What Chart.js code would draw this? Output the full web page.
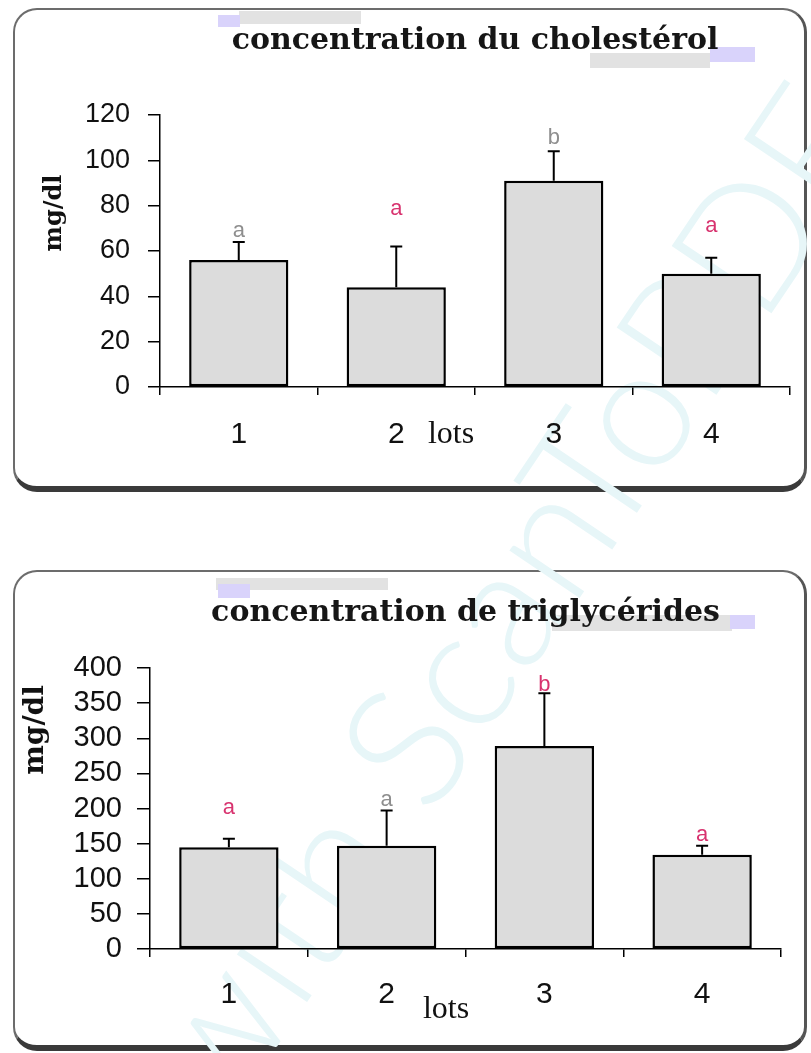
<!DOCTYPE html>
<html lang="fr">
<head>
<meta charset="utf-8">
<script src="https://cdn.jsdelivr.net/npm/chart.js@4.4.1/dist/chart.umd.min.js"></script>
<style>
  html, body { margin: 0; padding: 0; background: #fff; }
  body { width: 811px; height: 1053px; position: relative; overflow: hidden; }
  .panel { position: absolute; left: 13px; width: 794px; box-sizing: border-box; border: 2px solid #6c6c6c; border-right: 3px solid #555; border-bottom: 6px solid #3a3a3a; border-radius: 24px; }
  #p1 { top: 8px; height: 484px; }
  #p2 { top: 570px; height: 481px; }
  .tache { position: absolute; }
  .lav { background: #d9d3fb; }
  .gris { background: #e2e2e2; }
  svg.wm { position: absolute; left: 0; top: 0; }
  canvas { position: absolute; left: 0; }
  #c1 { top: 0; }
  #c2 { top: 560px; }
</style>
</head>
<body>
<div class="panel" id="p1"></div>
<div class="panel" id="p2"></div>

<!-- traces du scan autour des titres -->
<div class="tache gris" style="left:239px;top:11px;width:122px;height:13px"></div>
<div class="tache lav" style="left:218px;top:15px;width:22px;height:12px"></div>
<div class="tache gris" style="left:590px;top:53px;width:120px;height:15px"></div>
<div class="tache lav" style="left:710px;top:47px;width:45px;height:15px"></div>
<div class="tache gris" style="left:216px;top:578px;width:172px;height:12px"></div>
<div class="tache lav" style="left:218px;top:584px;width:32px;height:14px"></div>
<div class="tache gris" style="left:552px;top:615px;width:180px;height:16px"></div>
<div class="tache lav" style="left:730px;top:615px;width:25px;height:14px"></div>

<svg class="wm" width="811" height="1053">
  <text x="226" y="1122" transform="rotate(-56 226 1122)" font-family="Lato" font-weight="300" font-size="170" fill="#e7f6f8">with ScanToPDF</text>
</svg>

<canvas id="c1" width="811" height="500"></canvas>
<canvas id="c2" width="811" height="493"></canvas>

<script>
const lots = ['1', '2', '3', '4'];

// cholestérol (mg/dl)
const cholMoy = [56, 44, 91, 50];
const cholEt = [8, 18, 13, 7];
const cholLettres = ['a', 'a', 'b', 'a'];
const cholLettresY = [69, 78.5, 110, 71];
const cholTicks = [0, 20, 40, 60, 80, 100, 120];

// triglycérides (mg/dl)
const trigMoy = [145, 147, 289, 134];
const trigEt = [12, 50, 75, 13];
const trigLettres = ['a', 'a', 'b', 'a'];
const trigLettresY = [201, 212, 376, 162];
const trigTicks = [0, 50, 100, 150, 200, 250, 300, 350, 400];

const ROSE = '#d8336f', GRIS = '#8e8e8e';
const SANS = '"Liberation Sans", Arial, sans-serif';
const SERIF = '"DejaVu Serif", serif';
const TIMES = '"Liberation Serif", "Times New Roman", serif';

// barres d'erreur, lettres de significativité et titres d'axes
const annot = {
  id: 'annot',
  afterDatasetsDraw(chart, args, o) {
    const { ctx, scales: { y } } = chart;
    const moy = chart.data.datasets[0].data;
    const bars = chart.getDatasetMeta(0).data;
    ctx.save();
    ctx.strokeStyle = '#000'; ctx.lineWidth = 2;
    o.et.forEach((e, i) => {
      const bx = bars[i].x, y1 = y.getPixelForValue(moy[i] + e);
      ctx.beginPath();
      ctx.moveTo(bx, bars[i].y); ctx.lineTo(bx, y1);
      ctx.moveTo(bx - 6, y1); ctx.lineTo(bx + 6, y1);
      ctx.stroke();
    });
    ctx.font = '22px ' + SANS; ctx.textAlign = 'center'; ctx.textBaseline = 'middle';
    o.lettres.forEach((l, i) => {
      ctx.fillStyle = o.couleurs[i];
      ctx.fillText(l, bars[i].x, y.getPixelForValue(o.lettresY[i]));
    });
    // "lots"
    ctx.fillStyle = '#111'; ctx.font = o.xTitre.size + 'px ' + TIMES;
    ctx.fillText('lots', o.xTitre.x, o.xTitre.y);
    // "mg/dl"
    ctx.translate(o.yTitre.x, o.yTitre.y); ctx.rotate(-Math.PI / 2);
    ctx.font = 'bold ' + o.yTitre.size + 'px ' + SERIF;
    ctx.fillText('mg/dl', 0, 0);
    ctx.restore();
  }
};

function graphe(id, titre, moy, ticks, annotOpts, g) {
  return new Chart(document.getElementById(id), {
    type: 'bar',
    data: { labels: lots, datasets: [{ data: moy, backgroundColor: '#dcdcdc', borderColor: '#000', borderWidth: 2.5, borderSkipped: false, barPercentage: 0.63, categoryPercentage: 1 }] },
    options: {
      responsive: false, animation: false,
      layout: { padding: { top: g.top, right: g.right, bottom: g.bottom, left: 0 } },
      plugins: {
        legend: { display: false }, tooltip: { enabled: false },
        title: { display: true, text: titre, fullSize: false, color: '#161616', font: { family: SERIF, weight: 'bold', size: 30, lineHeight: 1.2 }, padding: { top: 0, bottom: g.titreBas } },
        annot: annotOpts,
      },
      scales: {
        x: {
          offset: true,
          grid: { offset: true, drawOnChartArea: false, tickLength: 8, color: '#000', lineWidth: 1.5 },
          border: { color: '#000', width: 1.5 },
          ticks: { color: '#111', font: { family: SANS, size: 30, lineHeight: 1.2 }, padding: g.xPad },
          afterFit: s => { s.height = 80; },
        },
        y: {
          min: ticks[0], max: ticks[ticks.length - 1],
          afterBuildTicks: s => { s.ticks = ticks.map(v => ({ value: v })); },
          grid: { drawOnChartArea: false, tickLength: g.yTick, color: '#000', lineWidth: 1.5 },
          border: { color: '#000', width: 1.5 },
          ticks: { color: '#111', autoSkip: false, font: { family: SANS, size: g.yFont, lineHeight: 1 }, padding: g.yPad },
          afterFit: s => { s.width = g.left; },
        },
      },
    },
    plugins: [annot],
  });
}

graphe('c1', 'concentration du cholestérol', cholMoy, cholTicks,
  { et: cholEt, lettres: cholLettres, lettresY: cholLettresY, couleurs: [GRIS, ROSE, GRIS, ROSE],
    xTitre: { x: 451, y: 435, size: 32 }, yTitre: { x: 55, y: 213, size: 24 } },
  { top: 23, titreBas: 56, bottom: 33, right: 21, left: 160, xPad: 22, yTick: 12, yPad: 18, yFont: 27 });

graphe('c2', 'concentration de triglycérides', trigMoy, trigTicks,
  { et: trigEt, lettres: trigLettres, lettresY: trigLettresY, couleurs: [ROSE, GRIS, ROSE, ROSE],
    xTitre: { x: 446, y: 450, size: 32 }, yTitre: { x: 36, y: 170, size: 28 } },
  { top: 35, titreBas: 37, bottom: 24, right: 30, left: 150, xPad: 20, yTick: 13, yPad: 15, yFont: 29 });
</script>
</body>
</html>
